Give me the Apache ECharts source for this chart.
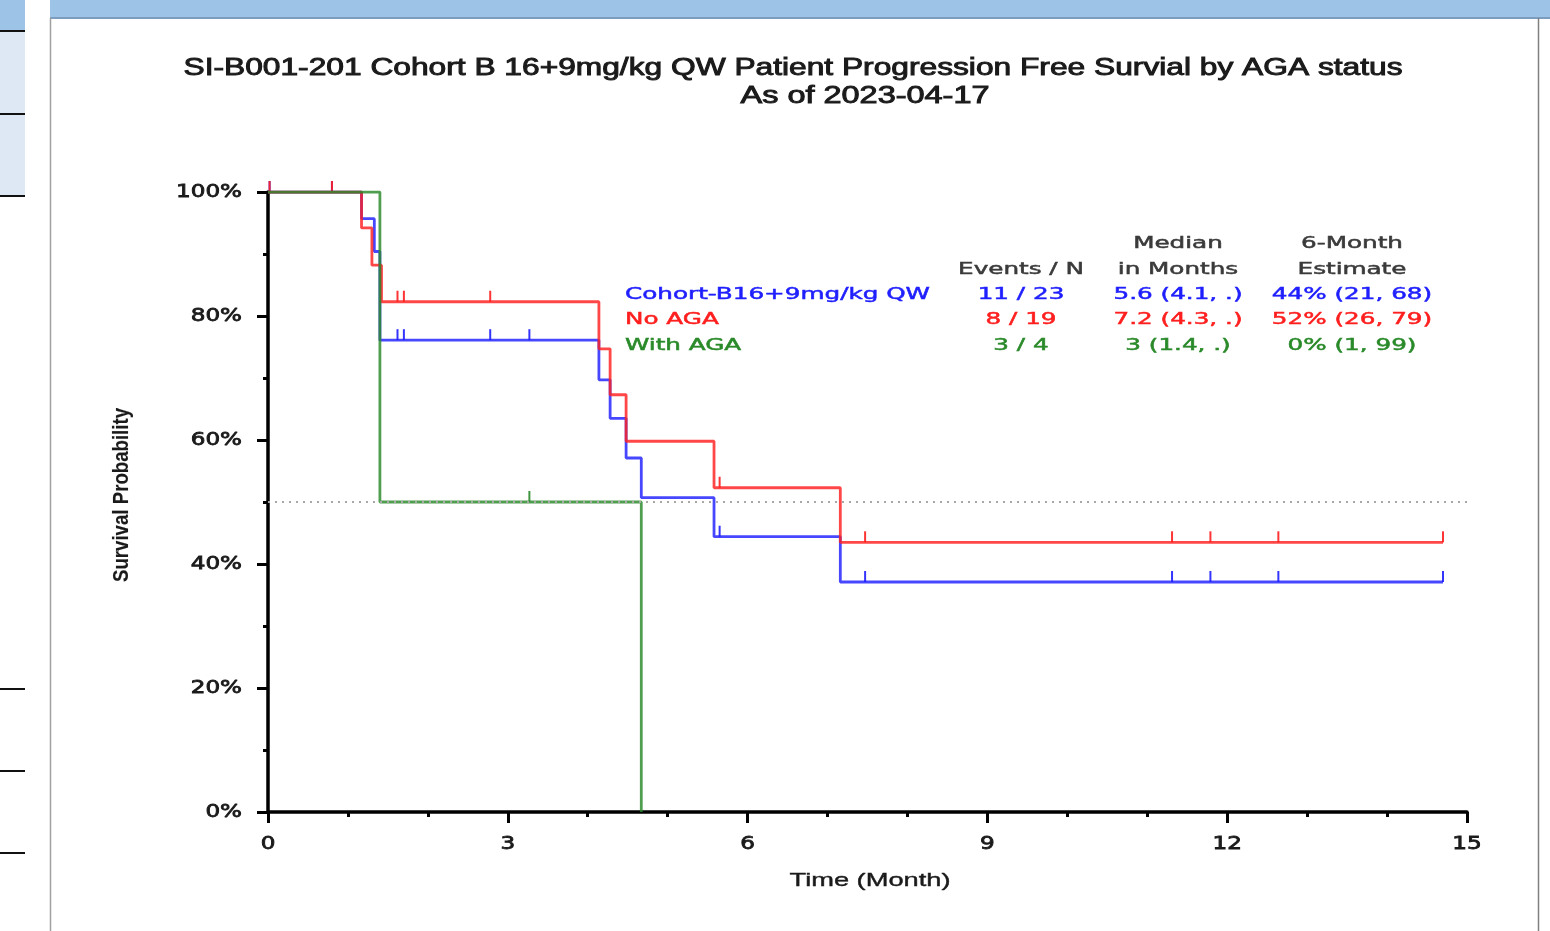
<!DOCTYPE html>
<html>
<head>
<meta charset="utf-8">
<script src="https://cdn.jsdelivr.net/npm/echarts@6/dist/echarts.min.js"></script>
<style>
html, body { margin: 0; padding: 0; background: #fff; }
#chart { width: 1550px; height: 931px; }
</style>
</head>
<body>
<div id="chart"></div>
<script>
// axis ticks
const xTicks = [0, 3, 6, 9, 12, 15];
const yTicks = [0, 20, 40, 60, 80, 100];

// KM step curves: [month, survival %] after each event
const cohortKM = [[0, 100], [1.17, 95.7], [1.33, 90.4], [1.40, 76.1], [4.14, 69.7], [4.28, 63.5], [4.48, 57.1], [4.67, 50.7], [5.58, 44.4], [7.16, 37.1], [14.70, 37.1]];
const noAgaKM = [[0, 100], [1.17, 94.2], [1.30, 88.2], [1.42, 82.3], [4.14, 74.7], [4.28, 67.3], [4.48, 59.8], [5.58, 52.3], [7.16, 43.5], [14.70, 43.5]];
const withAgaKM = [[0, 100], [1.40, 50], [4.67, 0]];

// censored patients
const cohortCens = [[0.02, 100], [0.8, 100], [1.62, 76.1], [1.70, 76.1], [2.78, 76.1], [3.27, 76.1], [5.65, 44.4], [7.47, 37.1], [11.31, 37.1], [11.79, 37.1], [12.64, 37.1], [14.70, 37.1]];
const noAgaCens = [[0.02, 100], [0.8, 100], [1.62, 82.3], [1.70, 82.3], [2.78, 82.3], [5.65, 52.3], [7.47, 43.5], [11.31, 43.5], [11.79, 43.5], [12.64, 43.5], [14.70, 43.5]];
const withAgaCens = [[3.27, 50]];

// summary table
const groupNames = ['Cohort-B16+9mg/kg QW', 'No AGA', 'With AGA'];
const eventsN = ['11 / 23', '8 / 19', '3 / 4'];
const medians = ['5.6 (4.1, .)', '7.2 (4.3, .)', '3 (1.4, .)'];
const sixMonth = ['44% (21, 68)', '52% (26, 79)', '0% (1, 99)'];

const BLUE = '#1e1eff';
const RED = '#ff1e1e';
const GREEN = '#2a8a2a';
const groupColors = [BLUE, RED, GREEN];

const chart = echarts.init(document.getElementById('chart'));

const stepLine = (data, color) => ({
    type: 'line',
    step: 'end',
    data: data,
    symbol: 'none',
    silent: true,
    lineStyle: { color: color, width: 2.8, opacity: 0.82 }
});

const censMarks = (data, color) => ({
    type: 'scatter',
    data: data,
    symbol: 'rect',
    symbolSize: [2, 11],
    symbolOffset: [0, -5.5],
    silent: true,
    itemStyle: { color: color, opacity: 0.9 }
});

const blackAxis = (min, max, interval, minorSplit) => ({
    type: 'value',
    min: min,
    max: max,
    interval: interval,
    axisLine: { show: true, onZero: false, lineStyle: { color: '#000', width: 3.5 } },
    axisTick: { show: true, length: 11, lineStyle: { color: '#000', width: 3 } },
    minorTick: { show: true, splitNumber: minorSplit, length: 5, lineStyle: { color: '#000', width: 3 } },
    axisLabel: { show: false },
    splitLine: { show: false }
});

const option = {
    animation: false,
    backgroundColor: '#fff',
    grid: { left: 268, right: 83, top: 192, bottom: 119 },
    xAxis: blackAxis(0, 15, 3, 3),
    yAxis: blackAxis(0, 100, 20, 2),
    series: [
        Object.assign(stepLine(cohortKM, BLUE), {
            markLine: {
                silent: true,
                symbol: 'none',
                label: { show: false },
                lineStyle: { color: '#a8a8a8', type: [2, 5], width: 2, opacity: 1 },
                data: [{ yAxis: 50 }]
            }
        }),
        stepLine(noAgaKM, RED),
        stepLine(withAgaKM, GREEN),
        censMarks(cohortCens, BLUE),
        censMarks(noAgaCens, RED),
        censMarks(withAgaCens, GREEN)
    ]
};
chart.setOption(option);

// text helpers: the source picture is stretched sideways, so texts get fitted widths
const ctx = document.createElement('canvas').getContext('2d');
const widthOf = (str, font) => { ctx.font = font; return ctx.measureText(str).width; };

const label = (id, str, x, y, o) => ({
    type: 'text',
    id: id,
    x: x,
    y: y,
    rotation: o.rotation || 0,
    scaleX: o.sx || 1,
    scaleY: o.sy || 1,
    z: 10,
    silent: true,
    style: {
        text: str,
        font: o.font,
        fill: o.color || '#222',
        stroke: o.color || '#222',
        lineWidth: o.bold || 0.5,
        align: o.align || 'center',
        verticalAlign: 'middle'
    }
});

const titleFont = "23px 'Liberation Sans', Arial, sans-serif";
const tableFont = "16px 'DejaVu Sans', sans-serif";
const tickFont = "18px 'DejaVu Sans', sans-serif";
const xNameFont = "19px 'Liberation Sans', Arial, sans-serif";
const yNameFont = "bold 18px 'Liberation Sans Narrow', 'Liberation Sans', sans-serif";

const title1 = 'SI-B001-201 Cohort B 16+9mg/kg QW Patient Progression Free Survial by AGA status';
const title2 = 'As of 2023-04-17';
const tableSx = 305 / widthOf(groupNames[0], tableFont);
const tickSx = 66 / widthOf('100%', tickFont);

const g = [];
// slide decorations around the chart panel
g.push({ type: 'rect', shape: { x: 50, y: 0, width: 1500, height: 17 }, style: { fill: '#9dc3e6' }, silent: true });
g.push({ type: 'line', shape: { x1: 50, y1: 18, x2: 1550, y2: 18 }, style: { stroke: '#7c9cc0', lineWidth: 2 }, silent: true });
g.push({ type: 'rect', shape: { x: 0, y: 0, width: 25, height: 31 }, style: { fill: '#9dc3e6' }, silent: true });
g.push({ type: 'rect', shape: { x: 0, y: 32, width: 25, height: 164 }, style: { fill: '#dde8f4' }, silent: true });
[31, 114, 196, 689, 771, 853].forEach(yy => {
    g.push({ type: 'line', shape: { x1: 0, y1: yy, x2: 25, y2: yy }, style: { stroke: '#111', lineWidth: 2 }, silent: true });
});
g.push({ type: 'line', shape: { x1: 50.5, y1: 18, x2: 50.5, y2: 931 }, style: { stroke: '#a0a0a0', lineWidth: 1.5 }, silent: true });
g.push({ type: 'line', shape: { x1: 1538.5, y1: 18, x2: 1538.5, y2: 931 }, style: { stroke: '#808080', lineWidth: 1.5 }, silent: true });

// titles
g.push(label('t1', title1, 793, 69, { font: titleFont, sx: 1219 / widthOf(title1, titleFont), color: '#1a1a1a', bold: 0.9 }));
g.push(label('t2', title2, 865, 97, { font: titleFont, sx: 249 / widthOf(title2, titleFont), color: '#1a1a1a', bold: 0.9 }));

// tick labels placed through the axes
yTicks.forEach(v => {
    const p = chart.convertToPixel({ gridIndex: 0 }, [0, v]);
    g.push(label('yl' + v, v + '%', p[0] - 26, p[1], { font: tickFont, sx: tickSx, align: 'right', color: '#1a1a1a', bold: 0.8 }));
});
xTicks.forEach(v => {
    const p = chart.convertToPixel({ gridIndex: 0 }, [v, 0]);
    g.push(label('xl' + v, String(v), p[0], p[1] + 32, { font: tickFont, sx: tickSx, color: '#1a1a1a', bold: 0.8 }));
});

// axis names
g.push(label('xn', 'Time (Month)', 870, 881, { font: xNameFont, sx: 161 / widthOf('Time (Month)', xNameFont), color: '#1a1a1a', bold: 0.4 }));
g.push(label('yn', 'Survival Probability', 122, 495, { font: yNameFont, rotation: Math.PI / 2, sx: 174 / widthOf('Survival Probability', yNameFont), sy: 1.2, color: '#1a1a1a', bold: 0.1 }));

// summary table
const colX = [1021, 1178, 1352];
const rowY = [295, 320, 346];
const headColor = '#3a3a3a';
g.push(label('h1', 'Events / N', colX[0], 270, { font: tableFont, sx: tableSx, color: headColor }));
g.push(label('h2a', 'Median', colX[1], 244, { font: tableFont, sx: tableSx, color: headColor }));
g.push(label('h2b', 'in Months', colX[1], 270, { font: tableFont, sx: tableSx, color: headColor }));
g.push(label('h3a', '6-Month', colX[2], 244, { font: tableFont, sx: tableSx, color: headColor }));
g.push(label('h3b', 'Estimate', colX[2], 270, { font: tableFont, sx: tableSx, color: headColor }));
groupNames.forEach((name, i) => {
    const c = groupColors[i];
    g.push(label('gn' + i, name, 625, rowY[i], { font: tableFont, sx: tableSx, align: 'left', color: c }));
    g.push(label('ev' + i, eventsN[i], colX[0], rowY[i], { font: tableFont, sx: tableSx, color: c }));
    g.push(label('md' + i, medians[i], colX[1], rowY[i], { font: tableFont, sx: tableSx, color: c }));
    g.push(label('sm' + i, sixMonth[i], colX[2], rowY[i], { font: tableFont, sx: tableSx, color: c }));
});

chart.setOption({ graphic: g });
</script>
</body>
</html>
